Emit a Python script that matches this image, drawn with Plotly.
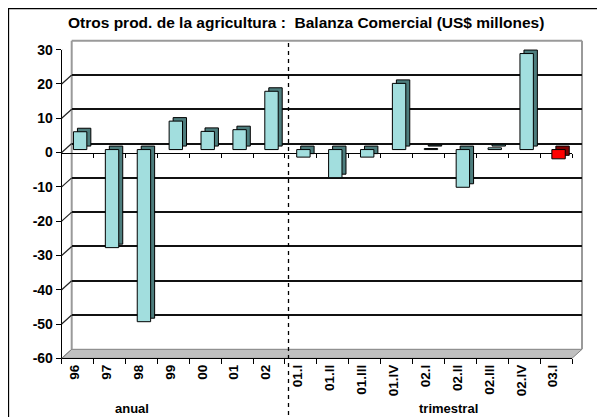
import plotly.graph_objects as go

# categorías y valores (US$ millones)
categorias = ['96', '97', '98', '99', '00', '01', '02',
              '01.I', '01.II', '01.III', '01.IV', '02.I', '02.II', '02.III', '02.IV', '03.I']
valores = [5.2, -28.6, -50.2, 8.3, 5.3, 5.8, 17.0,
           -2.2, -8.2, -2.2, 19.3, 0.3, -11.0, 0.5, 28.0, -2.7]
ultimo_estimado = [False] * 15 + [True]   # la última barra va en rojo

titulo = 'Otros prod. de la agricultura :  Balanza Comercial (US$ millones)'
grupos = ['anual', 'trimestral']
y_ticks = list(range(-60, 31, 10))

# geometría (px de pantalla) del cuadro tipo Excel 3D
W, H = 605, 417
OFF = 8                     # margen del <body> de la página
X0, X1 = 61.7, 572.0        # eje frontal
YTOP, YBOT = 49.7, 358.3    # 30 y -60 en el eje frontal
DX, DY = 10, 9              # profundidad del muro
BX, BY = 2.5, 3             # cara frontal de las barras
EX, EY = 4, 3.5             # extrusión de las barras
YMIN, YMAX = -60, 30
PXU = (YBOT - YTOP) / (YMAX - YMIN)

FONT = 'Arial, Liberation Sans, sans-serif'
cara = ['#FF0000' if e else '#A2DEDE' for e in ultimo_estimado]
lado = ['#800000' if e else '#4D7D7D' for e in ultimo_estimado]


def px(x):
    return (x - OFF) / W


def py(y):
    return 1 - (y - OFF) / H


def xdom(s):
    return [px(X0 + s), px(X1 + s)]


def ydom(s):
    return [py(YBOT - s), py(YTOP - s)]


fig = go.Figure()

# trazas invisibles para fijar las categorías de los ejes sin barras
fig.add_trace(go.Scatter(x=categorias, y=[0] * 16, mode='none', xaxis='x', yaxis='y',
                         showlegend=False, hoverinfo='skip'))
fig.add_trace(go.Scatter(x=categorias, y=[0] * 16, mode='none', xaxis='x2', yaxis='y2',
                         showlegend=False, hoverinfo='skip'))
# extrusión oscura
fig.add_trace(go.Bar(x=categorias, y=valores, xaxis='x3', yaxis='y3', width=0.42,
                     marker=dict(color=lado, line=dict(color='black', width=1)),
                     showlegend=False))
# cara frontal
fig.add_trace(go.Bar(x=categorias, y=valores, xaxis='x4', yaxis='y4', width=0.42,
                     marker=dict(color=cara, line=dict(color='black', width=1)),
                     showlegend=False))
# línea del cero frontal con marcas
fig.add_trace(go.Scatter(x=categorias, y=[0] * 16, mode='none', xaxis='x5', yaxis='y',
                         showlegend=False, hoverinfo='skip'))

cat_ax = dict(type='category', categoryorder='array', categoryarray=categorias,
              range=[-0.5, 15.5], fixedrange=True, automargin=False)
val_ax = dict(range=[YMIN, YMAX], fixedrange=True, automargin=False)

fig.update_layout(
    width=W, height=H, autosize=False,
    margin=dict(l=0, r=0, t=0, b=0, pad=0, autoexpand=False),
    paper_bgcolor='white', plot_bgcolor='rgba(0,0,0,0)',
    barmode='overlay', showlegend=False,
    font=dict(family=FONT, color='black'),
    xaxis=dict(**cat_ax, domain=xdom(0), anchor='y', showline=True, linecolor='black',
               linewidth=1, ticks='outside', tickson='boundaries', ticklen=5,
               tickcolor='black', tickangle=-90, showgrid=False, ticklabelshift=-3,
               tickfont=dict(family=FONT, size=13.5, weight='bold')),
    yaxis=dict(**val_ax, domain=ydom(0), tickvals=y_ticks, ticktext=[str(v) for v in y_ticks],
               anchor='x', showline=True, linecolor='black', linewidth=1, ticks='outside',
               ticklen=5, tickcolor='black', showgrid=False, zeroline=False,
               tickfont=dict(family=FONT, size=14, weight='bold')),
    xaxis2=dict(**cat_ax, domain=xdom(DX), anchor='y2', showticklabels=False, ticks='',
                showline=False, showgrid=False),
    yaxis2=dict(**val_ax, domain=ydom(DY), anchor='x2', tickvals=list(range(-50, 30, 10)),
                showticklabels=False, ticks='', showline=False, showgrid=True,
                gridcolor='#111111', gridwidth=1.5, zeroline=False),
    xaxis3=dict(**cat_ax, domain=xdom(BX + EX), anchor='y3', visible=False),
    yaxis3=dict(**val_ax, domain=ydom(BY + EY), anchor='x3', visible=False),
    xaxis4=dict(**cat_ax, domain=xdom(BX), anchor='y4', visible=False),
    yaxis4=dict(**val_ax, domain=ydom(BY), anchor='x4', visible=False),
    xaxis5=dict(**cat_ax, overlaying='x', anchor='free', position=py(YBOT - PXU * (0 - YMIN)),
                showticklabels=False, showline=True, linecolor='black', linewidth=1,
                ticks='outside', tickson='boundaries', ticklen=4, tickcolor='black',
                showgrid=False),
)

shapes = []
gris = '#9A9A9A'

# piso gris
shapes.append(dict(type='path', xref='paper', yref='paper', layer='below',
                   path=(f'M {px(X0)},{py(YBOT)} L {px(X1)},{py(YBOT)} '
                         f'L {px(X1 + DX)},{py(YBOT - DY)} L {px(X0 + DX)},{py(YBOT - DY)} Z'),
                   fillcolor='#C0C0C0', line=dict(color='#808080', width=1)))
# bordes del muro
for (xa, ya, xb, yb) in [(X0 + DX, YTOP - DY, X1 + DX, YTOP - DY),
                         (X0 + DX, YTOP - DY, X0 + DX, YBOT - DY),
                         (X1 + DX, YTOP - DY, X1 + DX, YBOT - DY)]:
    shapes.append(dict(type='line', xref='paper', yref='paper', x0=px(xa), y0=py(ya),
                       x1=px(xb), y1=py(yb), line=dict(color=gris, width=2), layer='below'))
# diagonales del muro lateral
for v in range(YMIN + 10, YMAX + 1, 10):
    shapes.append(dict(type='line', xref='paper', yref='y', x0=px(X0), x1=px(X0 + DX),
                       y0=v, y1=v + DY / PXU,
                       line=dict(color=gris if v == YMAX else '#222222', width=1.2)))
shapes.append(dict(type='line', xref='paper', yref='paper', x0=px(X0), x1=px(X0 + DX),
                   y0=py(YBOT), y1=py(YBOT - DY), line=dict(color='#808080', width=1)))
# separador punteado
shapes.append(dict(type='line', xref='paper', yref='paper', x0=px(288.5), x1=px(288.5),
                   y0=py(43), y1=0, line=dict(color='black', width=1.3, dash='4px,4px')))
# marco del gráfico
shapes.append(dict(type='rect', xref='paper', yref='paper', x0=px(OFF + 0.5), x1=1.01,
                   y0=-0.01, y1=py(OFF + 0.5), line=dict(color='black', width=1.3)))
fig.update_layout(shapes=shapes)

textos = [(f'<b>{titulo}</b>', 306, 22, 15.5),
          (f'<b>{grupos[0]}</b>', 132, 408, 13),
          (f'<b>{grupos[1]}</b>', 448, 408, 13)]
for txt, tx, ty, fs in textos:
    fig.add_annotation(text=txt, x=px(tx), y=py(ty), xref='paper', yref='paper',
                       xanchor='center', yanchor='middle', showarrow=False,
                       font=dict(family=FONT, size=fs))

fig.write_html('out.html')
